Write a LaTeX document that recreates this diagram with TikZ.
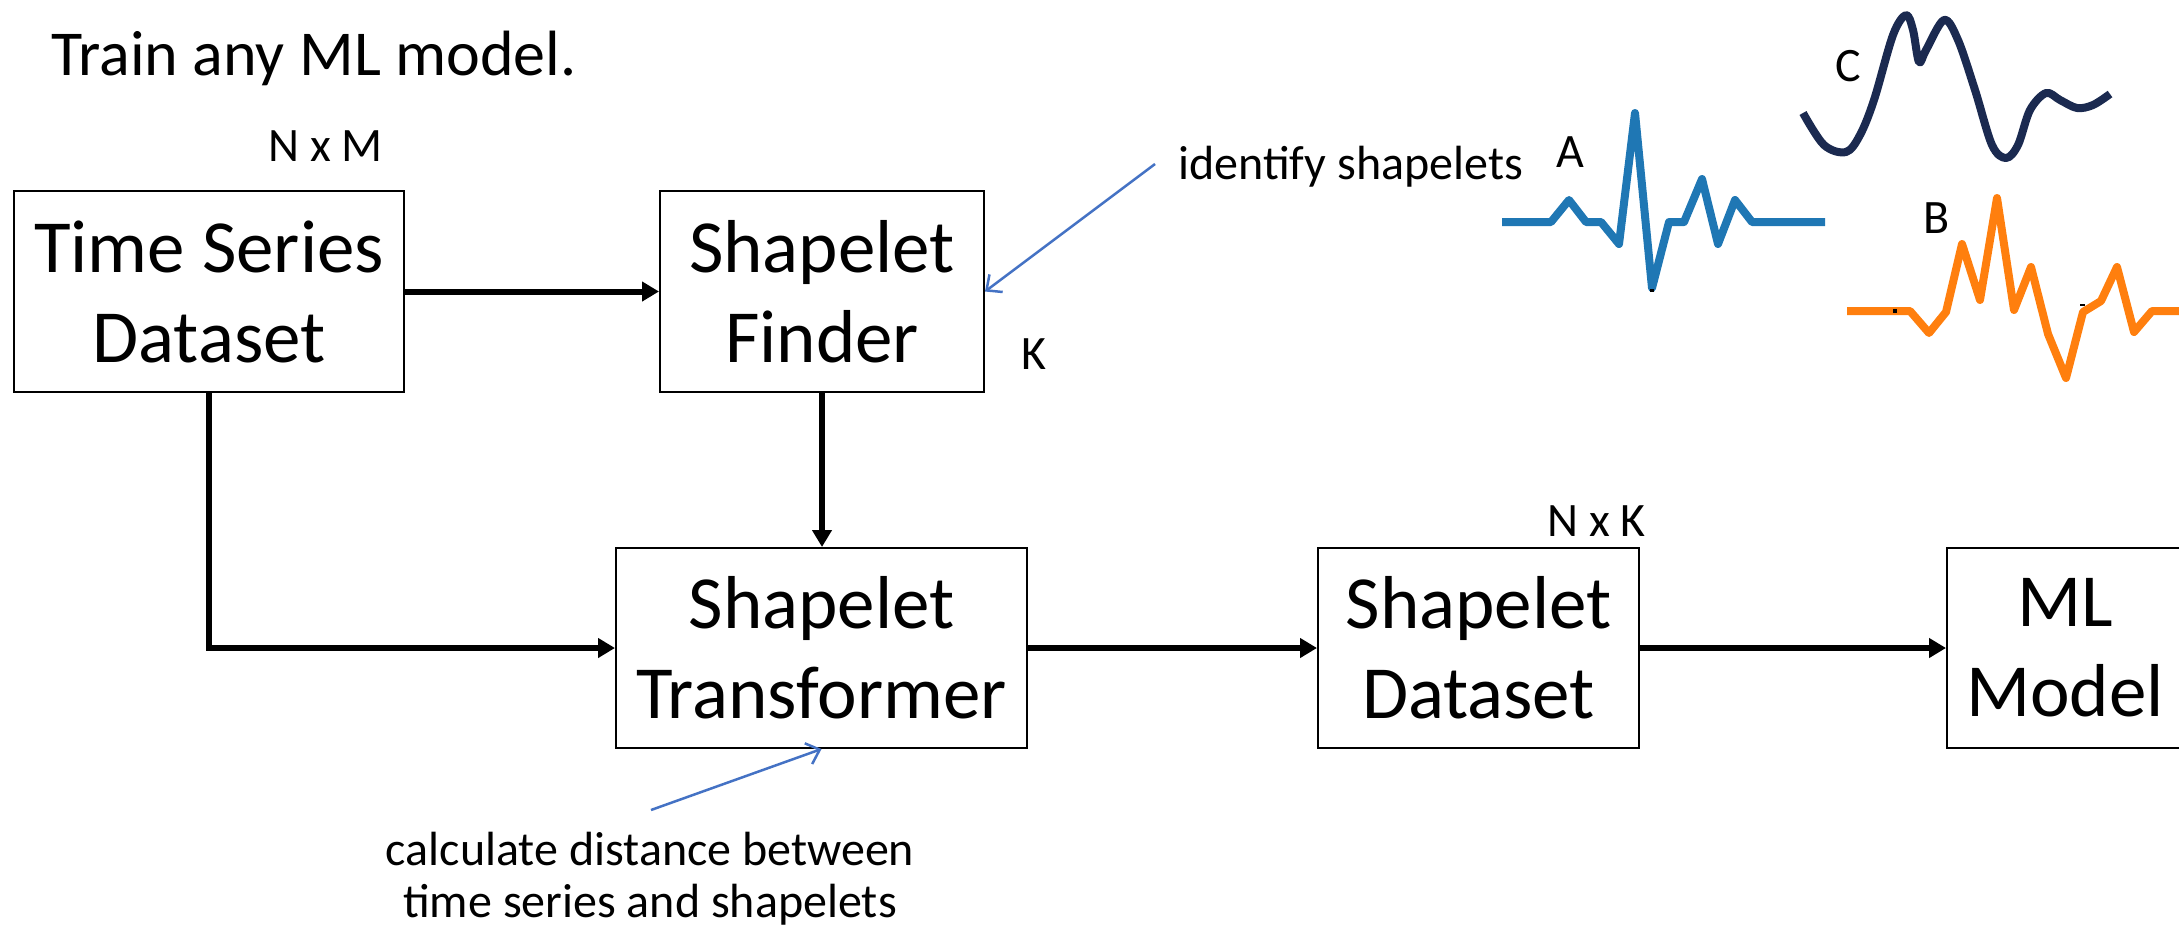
\documentclass[tikz,border=0pt]{standalone}
\usepackage{fontspec}
\setmainfont{Carlito}
\usetikzlibrary{arrows.meta}
\definecolor{annblue}{HTML}{4472C4}
\definecolor{serA}{HTML}{1F77B4}
\definecolor{serB}{HTML}{FF7F0E}
\definecolor{serC}{HTML}{1B2A50}
\tikzset{
  block/.style={draw=black, line width=2pt, inner sep=0pt, align=center,
                font=\fontsize{75}{90}\selectfont},
  flow/.style={line width=6pt, -{Triangle[length=17pt,width=19pt]}},
  note/.style={draw=annblue, line width=2.5pt,
               -{Straight Barb[length=12pt,width=22pt,line width=2.5pt]}},
  small/.style={font=\fontsize{48}{52}\selectfont, inner sep=0pt, anchor=base west},
  wave/.style={line width=8pt, line join=round},
}
\begin{document}
\begin{tikzpicture}[x=1pt,y=-1pt]
\useasboundingbox (0,0) rectangle (2179,930);
\clip (0,0) rectangle (2179,930);

% title
\node[small, font=\fontsize{64}{74}\selectfont] (title) at (51,75) {Train any ML model.};

% pipeline blocks
\node[block, minimum width=390pt, minimum height=201pt] (ts) at (209,291.5) {Time Series\\Dataset};
\node[block, minimum width=324pt, minimum height=201pt] (finder) at (822,291.5) {Shapelet\\Finder};
\node[block, minimum width=411pt, minimum height=200pt] (trans) at (821.5,648) {Shapelet\\Transformer};
\node[block, minimum width=321pt, minimum height=200pt] (sds) at (1478.5,648) {Shapelet\\Dataset};
\node[block, minimum width=236pt, minimum height=200pt] (ml) at (2065,648) {ML\\Model};

% size labels
\node[small] (nm) at (268,161) {N x M};
\node[small] (k) at (1021,369) {K};
\node[small] (nk) at (1547,536) {N x K};

% data flow
\draw[flow] (ts.east |- finder.west) -- (finder.west);
\draw[flow] (finder.south) -- (finder.south |- trans.north);
\draw[flow] (ts.south) |- (trans.west);
\draw[flow] (trans.east) -- (sds.west);
\draw[flow] (sds.east) -- (ml.west);

% annotations
\node[small] (idtext) at (1178,179) {identify shapelets};
\coordinate (idtail) at (1155,164);
\draw[note] (idtail) -- (finder.east);

\node[font=\fontsize{48}{52}\selectfont, align=center, anchor=base, inner sep=0pt]
  (calctext) at (650,917) {calculate distance between\\time series and shapelets};
\coordinate (calctail) at (651,810);
\draw[note] (calctail) -- (trans.south);

% example shapelets
\node[small] (lblA) at (1556,167) {A};
\node[small] (lblB) at (1923,233) {B};
\node[small] (lblC) at (1835,81) {C};

\draw[wave, serA] (1502,222) -- (1551,222) -- (1569,200) -- (1586,222) -- (1601,222)
  -- (1619,244) -- (1635,113) -- (1652,288) -- (1669,222) -- (1684,222)
  -- (1702,179) -- (1718,244) -- (1735,200) -- (1752,222) -- (1825,222);

\draw[wave, serB] (1847,311) -- (1910,311) -- (1929,333) -- (1946,312) -- (1962,244)
  -- (1980,300) -- (1997,198) -- (2014,310) -- (2031,267) -- (2048,334)
  -- (2066,378) -- (2083,312) -- (2101,301) -- (2117,267) -- (2134,332)
  -- (2152,311) -- (2190,311);

\draw[wave, serC] plot[smooth, tension=0.55] coordinates {
  (1803,113) (1824,145) (1846,152) (1860,135) (1874,100) (1893,35) (1906,15)
  (1913,30) (1919,62) (1926,50) (1944,20) (1958,40) (1975,90) (1992,145)
  (2006,158) (2018,145) (2030,110) (2046,93) (2060,100) (2077,108) (2093,105) (2110,94)};

% small black marks on the traces
\fill[black] (1650,289) rectangle (1654,292);
\fill[black] (1893,309) rectangle (1897,313);
\fill[black] (2080,304) rectangle (2085,306);
\end{tikzpicture}
\end{document}
